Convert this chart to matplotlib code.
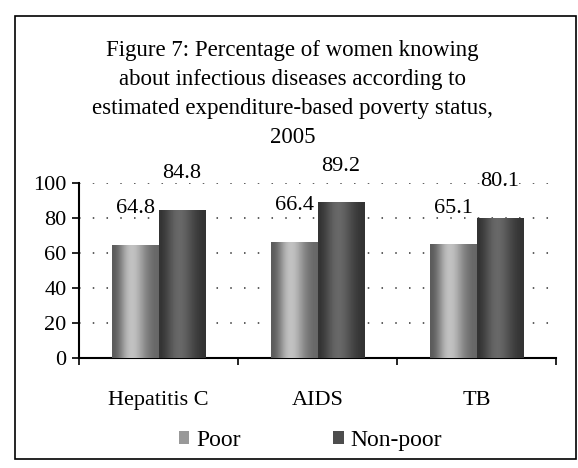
import matplotlib
matplotlib.use("Agg")
import matplotlib.pyplot as plt
import numpy as np
from matplotlib.patches import Rectangle

plt.rcParams['font.family'] = ['Liberation Serif', 'DejaVu Serif']

categories = ["Hepatitis C", "AIDS", "TB"]
poor = [64.8, 66.4, 65.1]
non_poor = [84.8, 89.2, 80.1]
series_names = ["Poor", "Non-poor"]
y_ticks = [0, 20, 40, 60, 80, 100]

title = ("Figure 7: Percentage of women knowing\n"
         "about infectious diseases according to\n"
         "estimated expenditure-based poverty status,\n"
         "2005")

fig = plt.figure(figsize=(5.78, 4.68), dpi=100)
ax = fig.add_axes([0.137, 0.235, 0.825, 0.374])

# outer frame around the whole figure
fig.patches.append(Rectangle((15 / 578, 1 - 459 / 468), 561 / 578, 443 / 468,
                             transform=fig.transFigure, fill=False,
                             edgecolor="black", linewidth=1.2))

fig.text(0.506, 1 - 40 / 468, title, ha="center", va="top", fontsize=16.5,
         linespacing=1.5)

x = np.arange(len(categories))
width = 0.295
bars_poor = ax.bar(x - width / 2, poor, width, color="0.6", zorder=3)
bars_non = ax.bar(x + width / 2, non_poor, width, color="0.3", zorder=3)

# halftone-like shading across each bar
shade_poor = np.array([[0.35, 0.5, 0.72, 0.78, 0.7, 0.55, 0.45, 0.4]])
shade_non = np.array([[0.2, 0.28, 0.38, 0.42, 0.38, 0.3, 0.24, 0.2]])
for bars, shade in ((bars_poor, shade_poor), (bars_non, shade_non)):
    for b in bars:
        bx, by = b.get_x(), b.get_y()
        im = ax.imshow(shade, cmap="gray", vmin=0, vmax=1, aspect="auto",
                       extent=(bx, bx + b.get_width(), by, by + b.get_height()),
                       interpolation="bicubic", zorder=4)
        im.set_clip_path(b)

for bars, vals in ((bars_poor, poor), (bars_non, non_poor)):
    for b, v in zip(bars, vals):
        ax.annotate(f"{v:.1f}", (b.get_x() + b.get_width() / 2, v),
                    xytext=(0, 19), textcoords="offset points",
                    ha="center", va="bottom", fontsize=16, zorder=5)

ax.set_xlim(-0.5, len(categories) - 0.5)
ax.set_ylim(0, 100)
ax.set_yticks(y_ticks)
ax.set_xticks(x)
ax.set_xticklabels(categories)
ax.set_xticks(np.arange(len(categories) + 1) - 0.5, minor=True)
ax.tick_params(axis="x", which="major", length=0, pad=24, labelsize=16)
ax.tick_params(axis="x", which="minor", length=5, width=1.2, direction="out")
ax.tick_params(axis="y", length=5, width=1.2, labelsize=16, pad=4)

ax.grid(axis="y", linestyle=(0, (1, 8)), color="0.2", linewidth=1.1, zorder=1)
for s in ("top", "right"):
    ax.spines[s].set_visible(False)
for s in ("left", "bottom"):
    ax.spines[s].set_linewidth(1.5)

ax.legend([bars_poor[0], bars_non[0]], series_names, loc="center",
          bbox_to_anchor=(0.485, -0.47), ncol=2, frameon=False, fontsize=17,
          handlelength=0.45, handleheight=0.45, handletextpad=0.3,
          columnspacing=3.9)

fig.savefig("out.png", dpi=100)
